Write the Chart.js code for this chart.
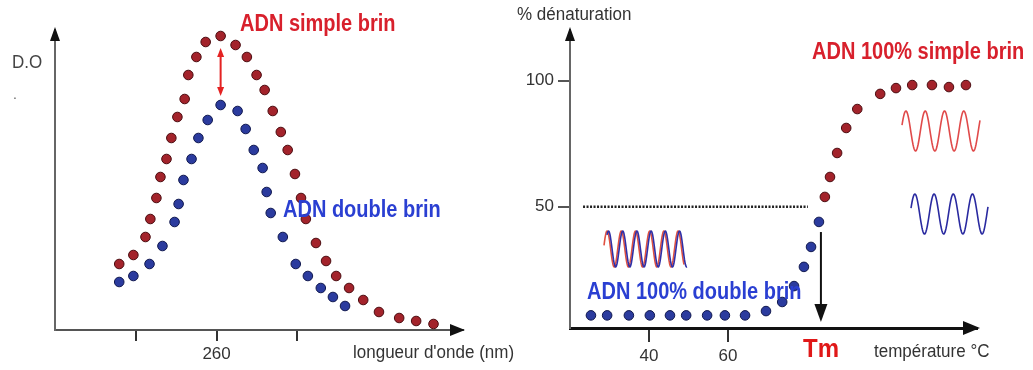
<!DOCTYPE html>
<html>
<head>
<meta charset="utf-8">
<script src="https://cdn.jsdelivr.net/npm/chart.js@4.4.1/dist/chart.umd.min.js"></script>
<style>
html,body{margin:0;padding:0;background:#fff;}
#wrap{position:relative;width:1033px;height:370px;overflow:hidden;background:#fff;}
#cl{position:absolute;left:0;top:0;}
#cr{position:absolute;left:515px;top:0;}
</style>
</head>
<body>
<div id="wrap">
<canvas id="cl" width="525" height="370"></canvas>
<canvas id="cr" width="518" height="370"></canvas>
</div>
<script>
// ---- Left chart: absorbance spectrum (longueur d'onde, nm) ----
const leftSimpleX = [235.9,239.4,242.4,243.6,245.1,246.1,247.6,248.8,250.3,252.1,253.0,255.0,257.3,261.0,264.7,267.5,269.9,271.9,273.9,275.9,277.6,279.4,280.9,282.1,284.6,287.1,289.6,292.8,296.3,300.2,305.2,309.4,313.7];
const leftSimpleY = [22,25,31,37,44,51,57,64,71,77,85,91,96,98,95,91,85,80,73,66,60,52,44,37,29,23,18,14,10,6,4,3,2];
const leftDoubleX = [235.9,239.4,243.4,246.6,249.6,250.6,251.8,253.8,255.5,257.8,261.0,265.2,267.2,269.2,271.4,272.4,273.4,276.4,279.6,282.6,285.8,288.8,291.8];
const leftDoubleY = [16,18,22,28,36,42,50,57,64,70,75,73,67,60,54,46,39,31,22,18,14,11,8];
const leftTicks = [240,260,280];
const leftTickLabels = ['','260',''];
const peakArrowX = 261;
const peakArrowY = [94,78];

// ---- Right chart: denaturation curve (température °C) ----
const rightDoubleX = [25.3,29.4,34.9,40.2,45.3,49.4,54.7,59.2,64.3,69.6,73.7,76.7,79.2,81.0,83.0];
const rightDoubleY = [7,7,7,7,7,7,7,7,7,8.7,12.3,18.6,26.2,34.1,44];
const rightSimpleX = [84.5,85.8,87.6,89.9,92.7,98.5,102.5,106.6,111.6,115.9,120.2];
const rightSimpleY = [53.9,61.8,71.3,81.2,88.7,94.7,97,98.2,98.2,97.4,98.2];
const rightXTicks = [40,60];
const rightXTickLabels = ['40','60'];
const rightYTicks = [50,100];
const rightYTickLabels = ['50','100'];
const halfLineX = [23.3,80.2];
const halfLineY = [50,50];
const tmX = 83.5;
const tmArrowY = [40,4.4];

const FONT = "'Liberation Sans', Arial, sans-serif";
const RED_TXT = '#d8202c';
const BLUE_TXT = '#2a3fd2';
const RED_PT = '#a3232b', RED_PT_B = '#4a0c10';
const BLUE_PT = '#2b3b9e', BLUE_PT_B = '#10184e';

function zip(xs, ys){ return xs.map((x,i)=>({x:x, y:ys[i]})); }

function wave(ctx, x0, x1, yc, amp, period, phase, color, lw){
  ctx.save();
  ctx.strokeStyle = color; ctx.lineWidth = lw; ctx.lineJoin='round';
  ctx.beginPath();
  for(let x=x0; x<=x1; x+=0.5){
    const y = yc - amp*Math.sin(2*Math.PI*(x-x0)/period + phase);
    if(x===x0) ctx.moveTo(x,y); else ctx.lineTo(x,y);
  }
  ctx.stroke();
  ctx.restore();
}
function tri(ctx, pts, color){
  ctx.save(); ctx.fillStyle=color; ctx.beginPath();
  ctx.moveTo(pts[0][0],pts[0][1]); ctx.lineTo(pts[1][0],pts[1][1]); ctx.lineTo(pts[2][0],pts[2][1]);
  ctx.closePath(); ctx.fill(); ctx.restore();
}
function text(ctx, s, x, y, font, color, sy){
  sy = sy || 1;
  ctx.save(); ctx.font = font; ctx.fillStyle = color; ctx.textAlign = 'left'; ctx.textBaseline='middle';
  ctx.translate(x, y); ctx.scale(1, sy);
  ctx.fillText(s, 0, 0); ctx.restore();
}

const decoLeft = {
  id:'decoLeft',
  afterDraw(chart){
    const ctx = chart.ctx, a = chart.chartArea, xs = chart.scales.x, ys = chart.scales.y;
    tri(ctx, [[a.left,a.top-3],[a.left-5,a.top+11],[a.left+5,a.top+11]], '#111');
    tri(ctx, [[a.right+2,a.bottom],[a.right-13,a.bottom-6],[a.right-13,a.bottom+6]], '#111');
    const px = xs.getPixelForValue(peakArrowX);
    const y1 = ys.getPixelForValue(peakArrowY[0]), y2 = ys.getPixelForValue(peakArrowY[1]);
    ctx.save(); ctx.strokeStyle='#e42222'; ctx.lineWidth=2;
    ctx.beginPath(); ctx.moveTo(px,y1+6); ctx.lineTo(px,y2-6); ctx.stroke(); ctx.restore();
    tri(ctx, [[px,y1],[px-3.5,y1+9],[px+3.5,y1+9]], '#e42222');
    tri(ctx, [[px,y2],[px-3.5,y2-9],[px+3.5,y2-9]], '#e42222');
    text(ctx, 'D.O', 12, 63, '17px '+FONT, '#444', 1.1);
    text(ctx, '.', 13, 95, '14px '+FONT, '#666');
    text(ctx, 'ADN simple brin', 240, 25, 'bold 20px '+FONT, RED_TXT, 1.15);
    text(ctx, 'ADN double brin', 283, 211, 'bold 20px '+FONT, BLUE_TXT, 1.15);
    text(ctx, "longueur d'onde (nm)", 353, 353, '17px '+FONT, '#333', 1.1);
  }
};

const decoRight = {
  id:'decoRight',
  afterDraw(chart){
    const ctx = chart.ctx, a = chart.chartArea, xs = chart.scales.x, ys = chart.scales.y;
    const O = 515;
    tri(ctx, [[a.left,a.top-3],[a.left-5,a.top+11],[a.left+5,a.top+11]], '#111');
    tri(ctx, [[a.right+3,a.bottom],[a.right-14,a.bottom-7],[a.right-14,a.bottom+7]], '#111');
    const px = xs.getPixelForValue(tmX);
    const y1 = ys.getPixelForValue(tmArrowY[0]), y2 = ys.getPixelForValue(tmArrowY[1]);
    ctx.save(); ctx.strokeStyle='#111'; ctx.lineWidth=2;
    ctx.beginPath(); ctx.moveTo(px,y1); ctx.lineTo(px,y2-14); ctx.stroke(); ctx.restore();
    tri(ctx, [[px,y2],[px-6.5,y2-18],[px+6.5,y2-18]], '#111');
    wave(ctx, 902-O, 980-O, 131, 20, 19.3, 0.3, '#e04a4a', 1.6);
    wave(ctx, 911-O, 988-O, 214, 20, 19.2, 0.3, '#2a2aa0', 1.6);
    wave(ctx, 604-O, 684-O, 249, 18, 14.2, 0.2, '#e05040', 1.6);
    wave(ctx, 607-O, 687-O, 249, 18, 14.2, 0.9, '#3030a8', 1.6);
    text(ctx, '% dénaturation', 517-O, 15, '17px '+FONT, '#333', 1.1);
    text(ctx, 'ADN 100% simple brin', 812-O, 53, 'bold 20px '+FONT, RED_TXT, 1.15);
    text(ctx, 'ADN 100% double brin', 587-O, 293, 'bold 20px '+FONT, BLUE_TXT, 1.15);
    text(ctx, 'Tm', 803-O, 350, 'bold 24px '+FONT, '#e01818', 1.1);
    text(ctx, 'température °C', 874-O, 352, '17px '+FONT, '#333', 1.1);
  }
};

const common = {
  responsive:false, animation:false, events:[],
  plugins:{legend:{display:false}, tooltip:{enabled:false}}
};

new Chart(document.getElementById('cl'), {
  type:'scatter',
  data:{datasets:[
    {data:zip(leftSimpleX,leftSimpleY), backgroundColor:RED_PT, borderColor:RED_PT_B, borderWidth:1, pointRadius:4.8},
    {data:zip(leftDoubleX,leftDoubleY), backgroundColor:BLUE_PT, borderColor:BLUE_PT_B, borderWidth:1, pointRadius:4.8}
  ]},
  options:Object.assign({}, common, {
    layout:{padding:{left:0,right:62,top:30,bottom:0}},
    scales:{
      x:{type:'linear', min:220, max:321,
        afterFit(s){ s.height = 40; },
        afterBuildTicks(s){ s.ticks = leftTicks.map(v=>({value:v})); },
        ticks:{autoSkip:false, maxRotation:0, padding:3, color:'#333', font:{family:FONT,size:17},
          callback:(v)=>{ const i=leftTicks.indexOf(v); return i>=0?leftTickLabels[i]:''; }},
        grid:{drawOnChartArea:false, drawTicks:true, tickLength:11, color:'#333', lineWidth:2},
        border:{display:true, color:'#555', width:2}
      },
      y:{type:'linear', min:0, max:100,
        afterFit(s){ s.width = 55; },
        ticks:{display:false},
        grid:{display:false},
        border:{display:true, color:'#666', width:2}
      }
    }
  }),
  plugins:[decoLeft]
});

new Chart(document.getElementById('cr'), {
  type:'scatter',
  data:{datasets:[
    {type:'line', data:zip(halfLineX,halfLineY), borderColor:'#222', borderWidth:2.5, borderDash:[2,1.5], pointRadius:0, fill:false},
    {data:zip(rightDoubleX,rightDoubleY), backgroundColor:BLUE_PT, borderColor:BLUE_PT_B, borderWidth:1, pointRadius:4.8},
    {data:zip(rightSimpleX,rightSimpleY), backgroundColor:RED_PT, borderColor:RED_PT_B, borderWidth:1, pointRadius:4.8}
  ]},
  options:Object.assign({}, common, {
    layout:{padding:{left:0,right:56,top:30,bottom:0}},
    scales:{
      x:{type:'linear', min:20, max:123,
        afterFit(s){ s.height = 42; },
        afterBuildTicks(s){ s.ticks = rightXTicks.map(v=>({value:v})); },
        ticks:{autoSkip:false, maxRotation:0, padding:4, color:'#333', font:{family:FONT,size:17},
          callback:(v)=>{ const i=rightXTicks.indexOf(v); return i>=0?rightXTickLabels[i]:''; }},
        grid:{drawOnChartArea:false, drawTicks:true, tickLength:14, color:'#333', lineWidth:2},
        border:{display:true, color:'#111', width:3}
      },
      y:{type:'linear', min:2, max:120,
        afterFit(s){ s.width = 55; },
        afterBuildTicks(s){ s.ticks = rightYTicks.map(v=>({value:v})); },
        ticks:{autoSkip:false, padding:4, color:'#333', font:{family:FONT,size:17},
          callback:(v)=>{ const i=rightYTicks.indexOf(v); return i>=0?rightYTickLabels[i]:''; }},
        grid:{drawOnChartArea:false, drawTicks:true, tickLength:12, color:'#555', lineWidth:2},
        border:{display:true, color:'#666', width:2}
      }
    }
  }),
  plugins:[decoRight]
});
</script>
</body>
</html>
